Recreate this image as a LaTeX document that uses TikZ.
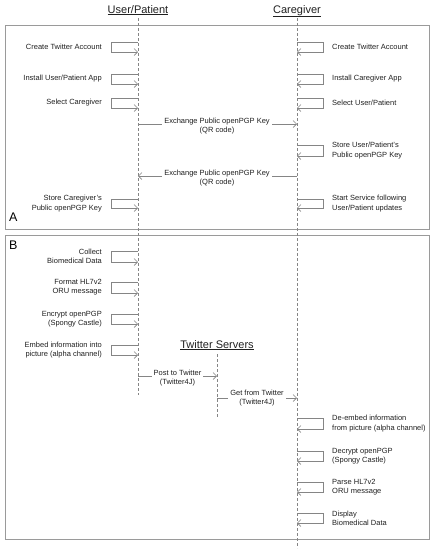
\documentclass[tikz,border=0pt]{standalone}
\usepackage{fontspec}
\setmainfont{Liberation Sans}
\usetikzlibrary{arrows.meta}
\definecolor{txt}{HTML}{202020}
\definecolor{ln}{HTML}{858585}
\definecolor{frm}{HTML}{9A9A9A}
\tikzset{
  lbl/.style={font=\fontsize{7.5}{9.3}\selectfont, text=txt, inner sep=1pt},
  lleft/.style={lbl, anchor=east, align=right},
  lright/.style={lbl, anchor=west, align=left},
  lmid/.style={lbl, align=center, fill=white, inner xsep=2pt, inner ysep=0pt},
  msg/.style={draw=ln, line width=0.65pt, -{Straight Barb[length=3.5pt,width=7pt]}},
  life/.style={draw=ln, dash pattern=on 3pt off 2pt, line width=0.65pt},
  framebox/.style={draw=frm, line width=1pt},
  ttl/.style={font=\fontsize{11}{12}\selectfont, text=txt, anchor=base, inner sep=0pt},
  letter/.style={font=\fontsize{12.5}{14}\selectfont, text=black, anchor=west, inner sep=0pt},
}
\newcommand\selfmsgL[4]{%
  \coordinate (#1a) at (138,#2);
  \coordinate (#1b) at (111,#2);
  \coordinate (#1c) at (111,#3);
  \coordinate (#1d) at (138,#3);
  \draw[msg] (#1a) -- (#1b) -- (#1c) -- (#1d);
  \node[lleft] (#1) at (103,{(#2+#3)/2}) {#4};
}
\newcommand\selfmsgR[4]{%
  \coordinate (#1a) at (297,#2);
  \coordinate (#1b) at (323,#2);
  \coordinate (#1c) at (323,#3);
  \coordinate (#1d) at (297,#3);
  \draw[msg] (#1a) -- (#1b) -- (#1c) -- (#1d);
  \node[lright] (#1) at (331,{(#2+#3)/2}) {#4};
}
\begin{document}
\begin{tikzpicture}[x=1pt,y=-1pt]
\useasboundingbox (0,0) rectangle (434,550);
% frames
\draw[framebox] (5,25) rectangle (429,229);
\draw[framebox] (5,235) rectangle (429,539);
\node[letter] (lA) at (9,217) {A};
\node[letter] (lB) at (9,245) {B};
% titles
\node[ttl] (tU) at (138,13) {\underline{User/Patient}};
\node[ttl] (tC) at (297,13) {\underline{Caregiver}};
\node[ttl] (tT) at (217,348) {\underline{Twitter Servers}};
% lifelines
\coordinate (uTop) at (138,18);
\coordinate (uBot) at (138,395);
\coordinate (cTop) at (297,18);
\coordinate (cBot) at (297,548);
\coordinate (tTop) at (217,354);
\coordinate (tBot) at (217,418);
\draw[life] (uTop) -- (uBot);
\draw[life] (cTop) -- (cBot);
\draw[life] (tTop) -- (tBot);
% part A
\selfmsgL{ua1}{42}{52}{Create Twitter Account}
\selfmsgL{ua2}{74}{84}{Install User/Patient App}
\selfmsgL{ua3}{98}{108}{Select Caregiver}
\selfmsgL{ua4}{199}{208}{Store Caregiver's\\Public openPGP Key}
\selfmsgR{ca1}{42}{52}{Create Twitter Account}
\selfmsgR{ca2}{74}{84}{Install Caregiver App}
\selfmsgR{ca3}{98}{108}{Select User/Patient}
\selfmsgR{ca4}{145}{156}{Store User/Patient's\\Public openPGP Key}
\selfmsgR{ca5}{199}{208}{Start Service following\\User/Patient updates}
\coordinate (x1s) at (138,124);
\coordinate (x1e) at (297,124);
\draw[msg] (x1s) -- (x1e);
\node[lmid] (x1) at (217,126) {Exchange Public openPGP Key\\(QR code)};
\coordinate (x2s) at (297,176);
\coordinate (x2e) at (138,176);
\draw[msg] (x2s) -- (x2e);
\node[lmid] (x2) at (217,178) {Exchange Public openPGP Key\\(QR code)};
% part B
\selfmsgL{ub1}{251}{262}{Collect\\Biomedical Data}
\selfmsgL{ub2}{282}{293}{Format HL7v2\\ORU message}
\selfmsgL{ub3}{314}{324}{Encrypt openPGP\\(Spongy Castle)}
\selfmsgL{ub4}{345}{355}{Embed information into\\picture (alpha channel)}
\coordinate (p1s) at (138,376);
\coordinate (p1e) at (217,376);
\draw[msg] (p1s) -- (p1e);
\node[lmid] (p1) at (177.5,378) {Post to Twitter\\(Twitter4J)};
\coordinate (g1s) at (217,398);
\coordinate (g1e) at (297,398);
\draw[msg] (g1s) -- (g1e);
\node[lmid] (g1) at (257,398) {Get from Twitter\\(Twitter4J)};
\selfmsgR{cb1}{418}{429}{De-embed information\\from picture (alpha channel)}
\selfmsgR{cb2}{451}{461}{Decrypt openPGP\\(Spongy Castle)}
\selfmsgR{cb3}{482}{492}{Parse HL7v2\\ORU message}
\selfmsgR{cb4}{513}{523}{Display\\Biomedical Data}
\end{tikzpicture}
\end{document}
